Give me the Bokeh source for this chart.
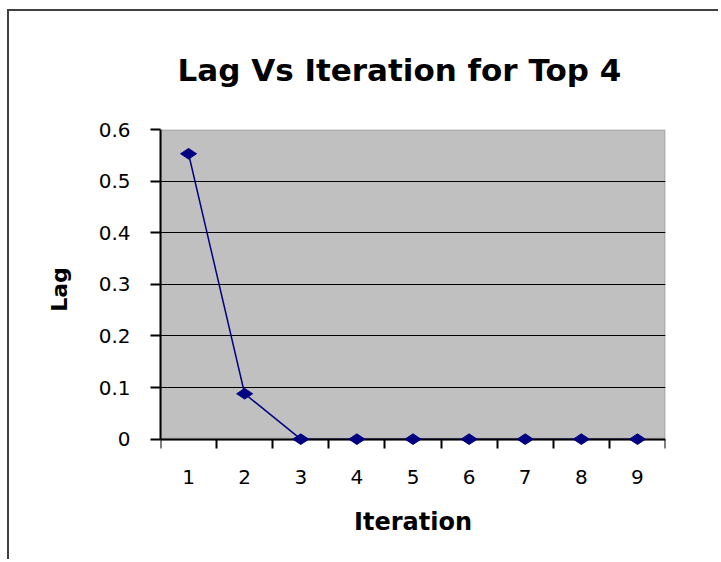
import math
from bokeh.plotting import figure
from bokeh.models import FixedTicker, Range1d, BoxAnnotation, LinearAxis
from bokeh.embed import file_html
from bokeh.resources import INLINE

iterations = [1, 2, 3, 4, 5, 6, 7, 8, 9]
lag = [0.553, 0.088, 0.0, 0.0, 0.0, 0.0, 0.0, 0.0, 0.0]
y_ticks = [0.0, 0.1, 0.2, 0.3, 0.4, 0.5, 0.6]
y_labels = ["0", "0.1", "0.2", "0.3", "0.4", "0.5", "0.6"]
x_labels = [str(i) for i in iterations]
title = "Lag Vs Iteration for Top 4"

FONT = "DejaVu Sans"
y_min, y_max = y_ticks[0], y_ticks[-1]
pad = 0.02  # room below the axis so markers at zero are drawn whole

p = figure(width=711, height=550, output_backend="svg", toolbar_location=None,
           x_range=Range1d(0.5, 9.5), y_range=Range1d(y_min - pad, y_max),
           min_border_left=151, min_border_right=55, min_border_top=118, min_border_bottom=112,
           title=title)
p.styles = {"border-top": "2px solid #404040", "border-left": "2px solid #404040",
            "margin-top": "9px", "margin-left": "7px"}

p.title.text_font = FONT
p.title.text_font_size = "31px"
p.title.text_font_style = "bold"
p.title.align = "left"
p.title.offset = 17
p.title.vertical_align = "top"
p.title.standoff = 80
p.title.text_color = "black"

p.background_fill_color = "white"
p.border_fill_color = "white"
p.outline_line_color = None

plot_area = BoxAnnotation(bottom=y_min, top=y_max, fill_color="#C0C0C0", fill_alpha=1.0,
                          line_color="#808080", line_width=3, level="image")
p.add_layout(plot_area)

# grid
p.xgrid.visible = False
p.ygrid.ticker = FixedTicker(ticks=y_ticks)
p.ygrid.grid_line_color = "black"
p.ygrid.grid_line_width = 1

# y axis
p.yaxis.ticker = FixedTicker(ticks=y_ticks)
p.yaxis.bounds = (y_min, y_max)
p.yaxis.major_label_overrides = {t: l for t, l in zip(y_ticks, y_labels)}
p.yaxis.major_tick_in = 0
p.yaxis.major_tick_out = 10
p.yaxis.minor_tick_out = 0
p.yaxis.minor_tick_in = 0
p.yaxis.axis_line_color = "black"
p.yaxis.axis_line_width = 2
p.yaxis.major_tick_line_color = "black"
p.yaxis.major_tick_line_width = 2
p.yaxis.major_label_text_font = FONT
p.yaxis.major_label_text_font_size = "20px"
p.yaxis.major_label_text_color = "black"
p.yaxis.major_label_standoff = 20
p.yaxis.axis_label = "Lag"
p.yaxis.axis_label_text_font = FONT
p.yaxis.axis_label_text_font_style = "bold"
p.yaxis.axis_label_text_font_size = "22px"
p.yaxis.axis_label_text_color = "black"
p.yaxis.axis_label_standoff = 24

# x axis: labels on the regular bottom axis, line and ticks on an axis at y = 0
bounds = [i - 0.5 for i in iterations] + [iterations[-1] + 0.5]
p.xaxis.ticker = FixedTicker(ticks=iterations)
p.xaxis.major_label_overrides = {i: l for i, l in zip(iterations, x_labels)}
p.xaxis.major_tick_in = 0
p.xaxis.major_tick_out = 0
p.xaxis.minor_tick_in = 0
p.xaxis.minor_tick_out = 0
p.xaxis.axis_line_color = None
p.xaxis.major_tick_line_color = None
p.xaxis.minor_tick_line_color = None
p.xaxis.major_label_text_font = FONT
p.xaxis.major_label_text_font_size = "20px"
p.xaxis.major_label_text_color = "black"
p.xaxis.major_label_standoff = 20
p.xaxis.axis_label = "Iteration"
p.xaxis.axis_label_text_font = FONT
p.xaxis.axis_label_text_font_style = "bold"
p.xaxis.axis_label_text_font_size = "24px"
p.xaxis.axis_label_text_color = "black"
p.xaxis.axis_label_standoff = 21

zero_axis = LinearAxis(fixed_location=y_min,
                       ticker=FixedTicker(ticks=iterations, minor_ticks=bounds),
                       major_tick_in=0, major_tick_out=0,
                       minor_tick_in=0, minor_tick_out=9,
                       minor_tick_line_color="black", minor_tick_line_width=2,
                       axis_line_color="black", axis_line_width=2,
                       major_label_text_color=None)
p.add_layout(zero_axis, "below")

p.line(iterations, lag, line_color="#000080", line_width=1.5)
p.scatter(iterations, lag, marker="diamond", size=16, angle=math.pi / 2,
          fill_color="#000080", line_color="#000080", level="overlay")

open("out.html", "w").write(file_html(p, INLINE))
